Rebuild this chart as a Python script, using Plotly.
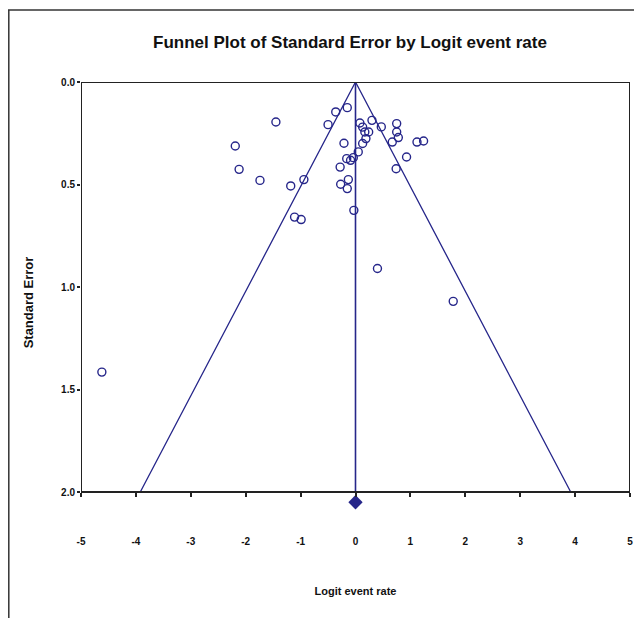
import plotly.graph_objects as go

# Study points: logit event rate (x) and standard error (y)
logit_rate = [-4.62, -1.45, -2.19, -2.12, -1.74, -1.18, -0.94, -1.11, -0.99,
              -0.50, -0.36, -0.15, -0.21, -0.28, -0.16, -0.09, -0.04, -0.27,
              -0.13, -0.15, -0.03, 0.08, 0.13, 0.17, 0.24, 0.30, 0.13, 0.19,
              0.05, 0.47, 0.75, 0.75, 0.78, 0.67, 1.12, 1.24, 0.93, 0.74,
              0.40, 1.78]
std_error = [1.415, 0.195, 0.312, 0.426, 0.480, 0.507, 0.476, 0.659, 0.671,
             0.208, 0.146, 0.125, 0.299, 0.415, 0.374, 0.382, 0.369, 0.499,
             0.476, 0.520, 0.626, 0.200, 0.220, 0.244, 0.244, 0.187, 0.300,
             0.276, 0.341, 0.219, 0.203, 0.244, 0.271, 0.293, 0.293, 0.288,
             0.366, 0.423, 0.910, 1.070]

pooled = 0.0
se_max = 2.0
funnel_x = [pooled - 1.96 * se_max, pooled, pooled + 1.96 * se_max]
funnel_y = [se_max, 0.0, se_max]
diamond_y = 2.05

x_ticks = [-5, -4, -3, -2, -1, 0, 1, 2, 3, 4, 5]
y_ticks = [0.0, 0.5, 1.0, 1.5, 2.0]

navy = "#26268A"
W, H = 634, 610
L, R, T = 73, 12, 74
Y2PX = 484          # pixel row of SE = 2.0
BOT = 515           # bottom of the plotting domain (room for diamond)
B = H - BOT
pw, ph = W - L - R, BOT - T
y_range_max = se_max * (BOT - T) / (Y2PX - T)

def px_x(p):
    return (p - L) / pw

def px_y(p):
    return 1 - (p - T) / ph

narrow = "Liberation Sans Narrow, Arial Narrow, sans-serif"

fig = go.Figure()
fig.add_trace(go.Scatter(x=funnel_x, y=funnel_y, mode="lines",
                         line=dict(color=navy, width=1.3), hoverinfo="skip"))
fig.add_trace(go.Scatter(x=[pooled, pooled], y=[0.0, se_max], mode="lines",
                         line=dict(color=navy, width=1.6), hoverinfo="skip"))
fig.add_trace(go.Scatter(x=logit_rate, y=std_error, mode="markers",
                         marker=dict(symbol="circle-open", size=8, color=navy,
                                     line=dict(color=navy, width=1.4))))
fig.add_trace(go.Scatter(x=[pooled], y=[diamond_y], mode="markers",
                         marker=dict(symbol="diamond", size=11, color=navy)))

tick_font = dict(family=narrow, size=10, color="#111")

fig.update_layout(
    width=W, height=H,
    margin=dict(l=L, r=R, t=T, b=B, autoexpand=False),
    paper_bgcolor="white", plot_bgcolor="white",
    showlegend=False,
    title=dict(text="<b>Funnel Plot of Standard Error by Logit event rate</b>",
               x=px_x(342), xref="paper", xanchor="center",
               y=1 - 34 / H, yanchor="middle",
               font=dict(family=narrow, size=17, color="#111")),
    xaxis=dict(range=[-5, 5], tickvals=x_ticks,
               ticktext=[f"<b>{v}</b>" for v in x_ticks],
               anchor="free", position=(BOT - Y2PX) / ph,
               showgrid=False, zeroline=False, showline=False,
               ticks="outside", ticklen=4, tickwidth=1.5, tickcolor="#222",
               ticklabelstandoff=36, tickfont=tick_font,
               title=dict(text="<b>Logit event rate</b>", standoff=41,
                          font=dict(family=narrow, size=11, color="#111")),
               automargin=False),
    yaxis=dict(range=[y_range_max, 0], tickvals=y_ticks,
               ticktext=[f"<b>{v:.1f}</b>" for v in y_ticks],
               showgrid=False, zeroline=False, showline=False,
               ticks="outside", ticklen=3, tickwidth=1.5, tickcolor="#222",
               tickfont=tick_font,
               title=dict(text="<b>Standard Error</b>", standoff=24,
                          font=dict(family="Liberation Sans, Arial, sans-serif",
                                    size=13, color="#111")),
               automargin=False),
    shapes=[
        # plot frame around SE 0..2, logit -5..5
        dict(type="rect", xref="x", yref="y", x0=-5, x1=5, y0=0, y1=se_max,
             line=dict(color="#222", width=2), layer="above"),
        # outer figure border (left and top)
        dict(type="line", xref="paper", yref="paper",
             x0=px_x(0.8), x1=px_x(0.8), y0=px_y(2), y1=px_y(H),
             line=dict(color="#333", width=1.5)),
        dict(type="line", xref="paper", yref="paper",
             x0=px_x(0), x1=px_x(W), y0=px_y(2), y1=px_y(2),
             line=dict(color="#333", width=1.5)),
    ],
)

fig.write_html("out.html")
